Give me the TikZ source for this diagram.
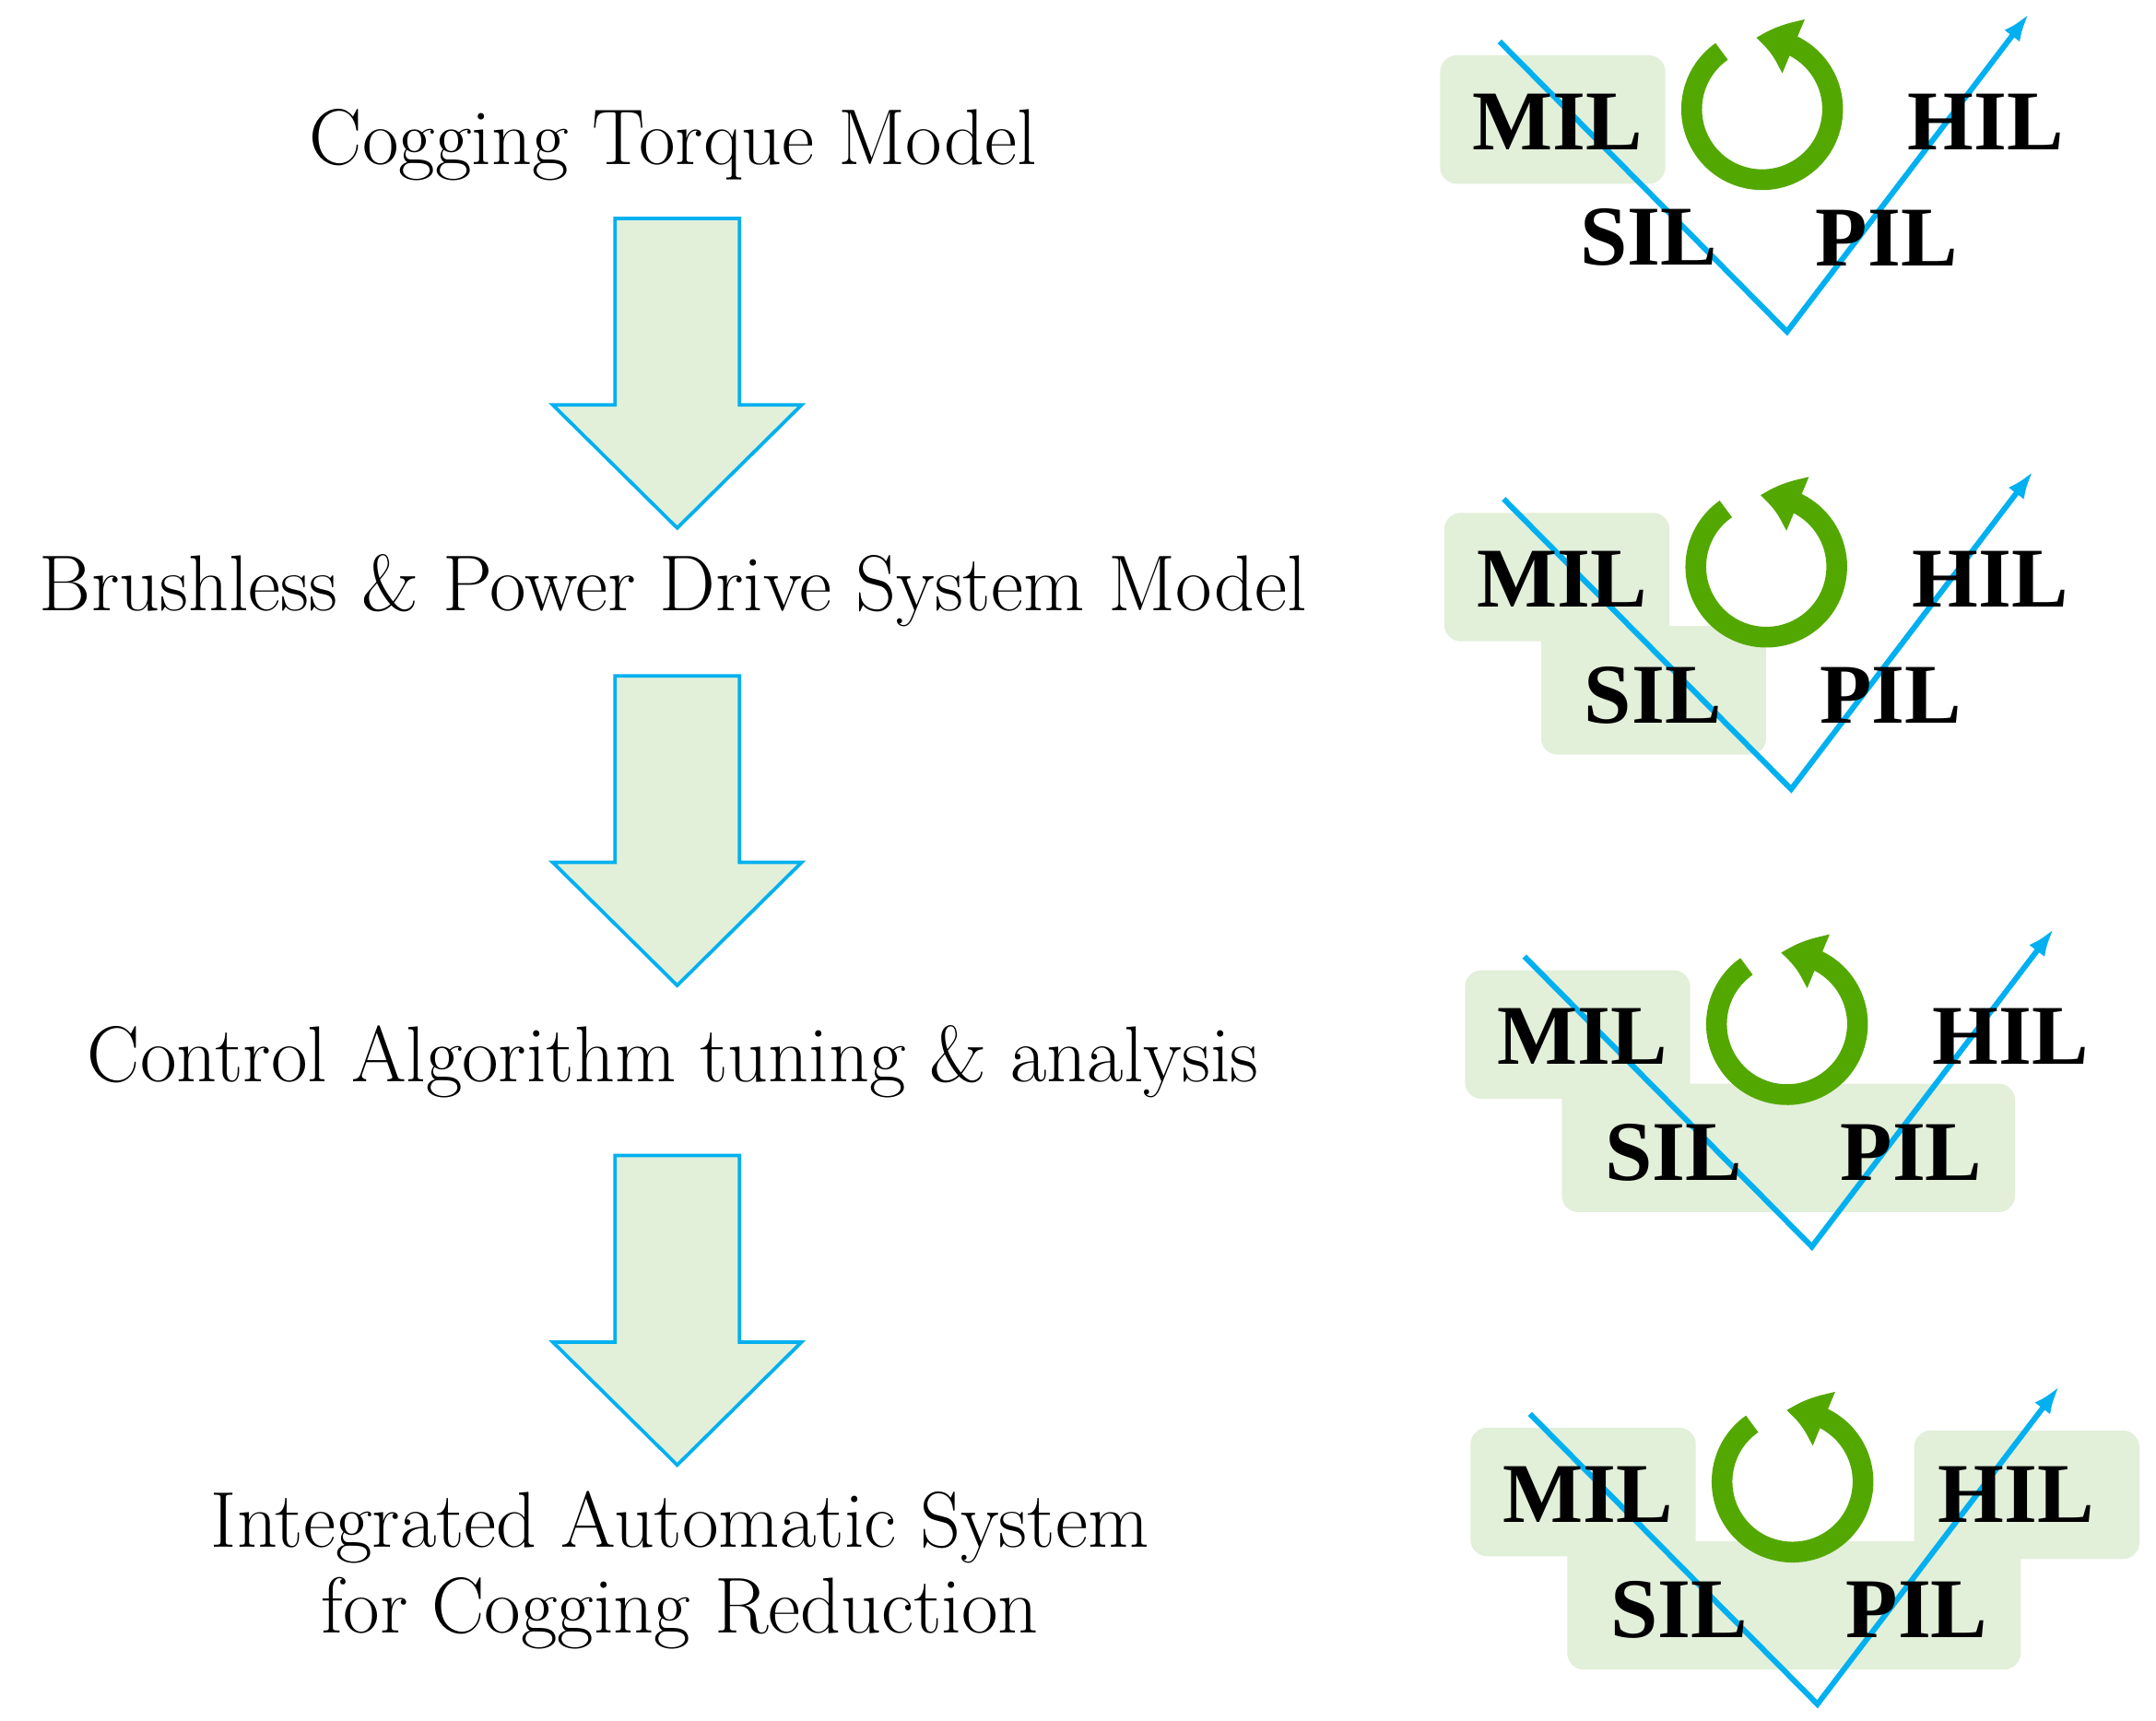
\documentclass[tikz,border=0pt]{standalone}
\usepackage{fontspec}
\newfontfamily\lab{Liberation Serif}
\usetikzlibrary{arrows.meta,bending}
\definecolor{lg}{HTML}{E2EFD9}
\definecolor{cy}{HTML}{00B0F0}
\definecolor{gr}{HTML}{53A800}
\begin{document}
\begin{tikzpicture}[x=0.01cm,y=-0.01cm,
  main/.style={font=\fontsize{16.3}{17.6}\selectfont,align=center},
  lbl/.style={font=\lab\bfseries\fontsize{17.5}{20}\selectfont},
  box/.style={fill=lg,rounded corners=0.12cm},
  blk/.style={draw=cy,fill=lg,line width=0.025cm},
  vline/.style={draw=cy,line width=0.04cm},
  loop/.style={draw=gr,line width=0.15cm}]
\useasboundingbox (0,0) rectangle (1560,1245);
\node[main] (t1) at (487,105) {Cogging Torque Model};
\node[main] (t2) at (487,427) {Brushless \& Power Drive System Model};
\node[main] (t3) at (487,768) {Control Algorithm tuning \& analysis};
\node[main] (t4) at (492,1136) {Integrated Automatic System\\for Cogging Reduction};
\foreach \ty/\n in {158/a,489/b,836/c}{
  \draw[blk] (445,\ty) -- (535,\ty) -- (535,\ty+135) -- (580,\ty+135) -- (490,\ty+224) -- (400,\ty+135) -- (445,\ty+135) -- cycle;
}
\foreach \dx/\dy/\k in {0/0/1,3/331/2,18/662/3,22/993/4}{
\begin{scope}[shift={(\dx,\dy)}]
  \fill[box] (1042,40) rectangle (1205,133);
  \ifnum\k>1 \fill[box] (1112,122) rectangle (1275,215); \fi
  \ifnum\k>2 \fill[box] (1250,122) rectangle (1440,215); \fi
  \ifnum\k>3 \fill[box] (1363,42) rectangle (1526,135); \fi
  \coordinate (s\k) at (1085,30);
  \coordinate (b\k) at (1293,240);
  \coordinate (e\k) at (1468,10);
  \draw[vline,-{Latex[length=0.2cm,width=0.14cm]}] (s\k) -- (b\k) -- (e\k);
  \node[lbl] (mil\k) at (1127,88) {MIL};
  \node[lbl] (hil\k) at (1437,88) {HIL};
  \node[lbl] (sil\k) at (1193,172) {SIL};
  \node[lbl] (pil\k) at (1365,172) {PIL};
  \draw[loop,-{Triangle[length=0.28cm,width=0.4cm,bend]}] (1275,79) ++(-125:51) arc[start angle=-125,end angle=-455,radius=51];
\end{scope}
}
\end{tikzpicture}
\end{document}
